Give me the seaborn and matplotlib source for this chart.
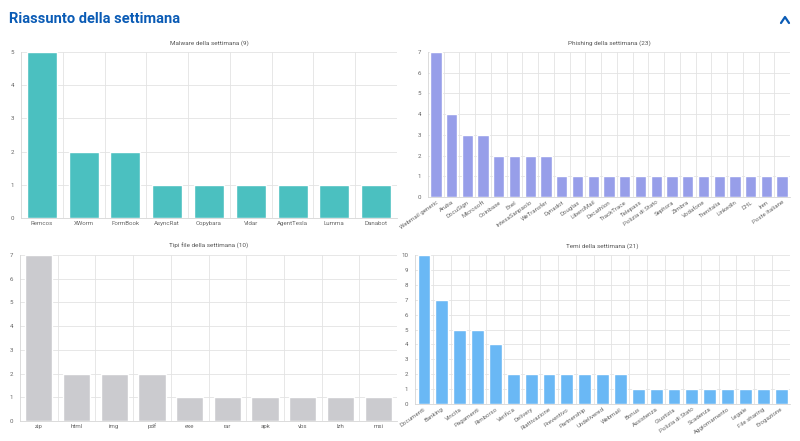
import matplotlib
matplotlib.use('Agg')
import matplotlib.pyplot as plt
from matplotlib.lines import Line2D
import seaborn as sns
import pandas as pd


malware_labels = ['Remcos', 'XWorm', 'FormBook', 'AsyncRat', 'Copybara', 'Vidar', 'AgentTesla', 'Lumma', 'Danabot']
malware_values = [5, 2, 2, 1, 1, 1, 1, 1, 1]

phishing_labels = ['Webmail generic', 'Aruba', 'DocuSign', 'Microsoft', 'Coinbase', 'Enel',
                   'IntesaSanpaolo', 'WeTransfer', 'Dynadot', 'Douglas', 'LiberoMail', 'Decathlon',
                   'TrackTrace', 'Telepass', 'Polizia di Stato', 'Sephora', 'Zimbra', 'Vodafone',
                   'Trenitalia', 'LinkedIn', 'DHL', 'Iren', 'Poste Italiane']
phishing_values = [7, 4, 3, 3, 2, 2, 2, 2, 1, 1, 1, 1, 1, 1, 1, 1, 1, 1, 1, 1, 1, 1, 1]

filetype_labels = ['zip', 'html', 'img', 'pdf', 'exe', 'rar', 'apk', 'vbs', 'lzh', 'msi']
filetype_values = [7, 2, 2, 2, 1, 1, 1, 1, 1, 1]

temi_labels = ['Documenti', 'Banking', 'Vincita', 'Pagamenti', 'Rimborso', 'Verifica', 'Delivery',
               'Riattivazione', 'Preventivo', 'Partnership', 'Undelivered', 'Webmail', 'Bonus',
               'Assistenza', 'Giustizia', 'Polizia di Stato', 'Scadenza', 'Aggiornamento', 'Legale',
               'File sharing', 'Erogazione']
temi_values = [10, 7, 5, 5, 4, 2, 2, 2, 2, 2, 2, 2, 1, 1, 1, 1, 1, 1, 1, 1, 1]

W, H = 800, 441


def px(l, t, r, b):
    return [l / W, 1 - b / H, (r - l) / W, (b - t) / H]


def draw_panel(fig, rect, labels, values, color, title, rotate):
    ax = fig.add_axes(px(*rect))
    df = pd.DataFrame({'label': labels, 'value': values})
    sns.barplot(data=df, x='label', y='value', color=color, width=0.72,
                saturation=1, ax=ax)
    n = len(labels)
    ymax = max(values)
    ax.set_xlim(-0.5, n - 0.5)
    ax.set_ylim(0, ymax)
    ax.set_yticks(range(0, ymax + 1))
    ax.set_xticks([i + 0.5 for i in range(n - 1)], minor=True)
    ax.grid(False)
    ax.grid(True, axis='y', which='major', color='#e3e3e3', linewidth=0.6)
    ax.grid(True, axis='x', which='minor', color='#e3e3e3', linewidth=0.6)
    ax.set_axisbelow(True)
    for s in ['top', 'right']:
        ax.spines[s].set_visible(False)
    for s in ['left', 'bottom']:
        ax.spines[s].set_color('#d6d6d6')
        ax.spines[s].set_linewidth(0.6)
    ax.tick_params(axis='both', which='major', length=3, color='#e3e3e3',
                   labelsize=4.4, labelcolor='#666666', pad=2)
    ax.tick_params(axis='x', which='minor', length=3, color='#e3e3e3')
    ax.tick_params(axis='x', which='major', length=0)
    if rotate:
        ax.set_xticks(range(n))
        ax.set_xticklabels(labels, rotation=35, ha='right', rotation_mode='anchor')
    ax.set_xlabel('')
    ax.set_ylabel('')
    ax.set_title(title, fontsize=4.6, color='#555555', pad=5)
    return ax


def main() -> None:
    sns.set_theme(style='white')
    plt.rcParams['font.family'] = ['Roboto', 'DejaVu Sans']

    fig = plt.figure(figsize=(8, 4.41), dpi=100)
    fig.patch.set_facecolor('white')

    fig.text(9 / W, 1 - 19 / H, 'Riassunto della settimana', fontsize=10.5,
             fontweight='bold', color='#0a5bb5', va='center', ha='left')
    fig.add_artist(Line2D([781 / W, 785 / W, 789 / W],
                          [1 - 23 / H, 1 - 17 / H, 1 - 23 / H],
                          color='#0a5bb5', linewidth=1.6, transform=fig.transFigure))

    draw_panel(fig, (21, 52, 397, 218), malware_labels, malware_values,
               '#4bc0c0', 'Malware della settimana (9)', False)
    draw_panel(fig, (428, 52, 790, 197), phishing_labels, phishing_values,
               '#979ee9', 'Phishing della settimana (23)', True)
    draw_panel(fig, (20, 255, 397, 421), filetype_labels, filetype_values,
               '#cbcbcf', 'Tipi file della settimana (10)', False)
    draw_panel(fig, (415, 255, 790, 404), temi_labels, temi_values,
               '#6ab8f5', 'Temi della settimana (21)', True)

    plt.savefig('out.png', dpi=100, facecolor='white')


if __name__ == '__main__':
    main()
